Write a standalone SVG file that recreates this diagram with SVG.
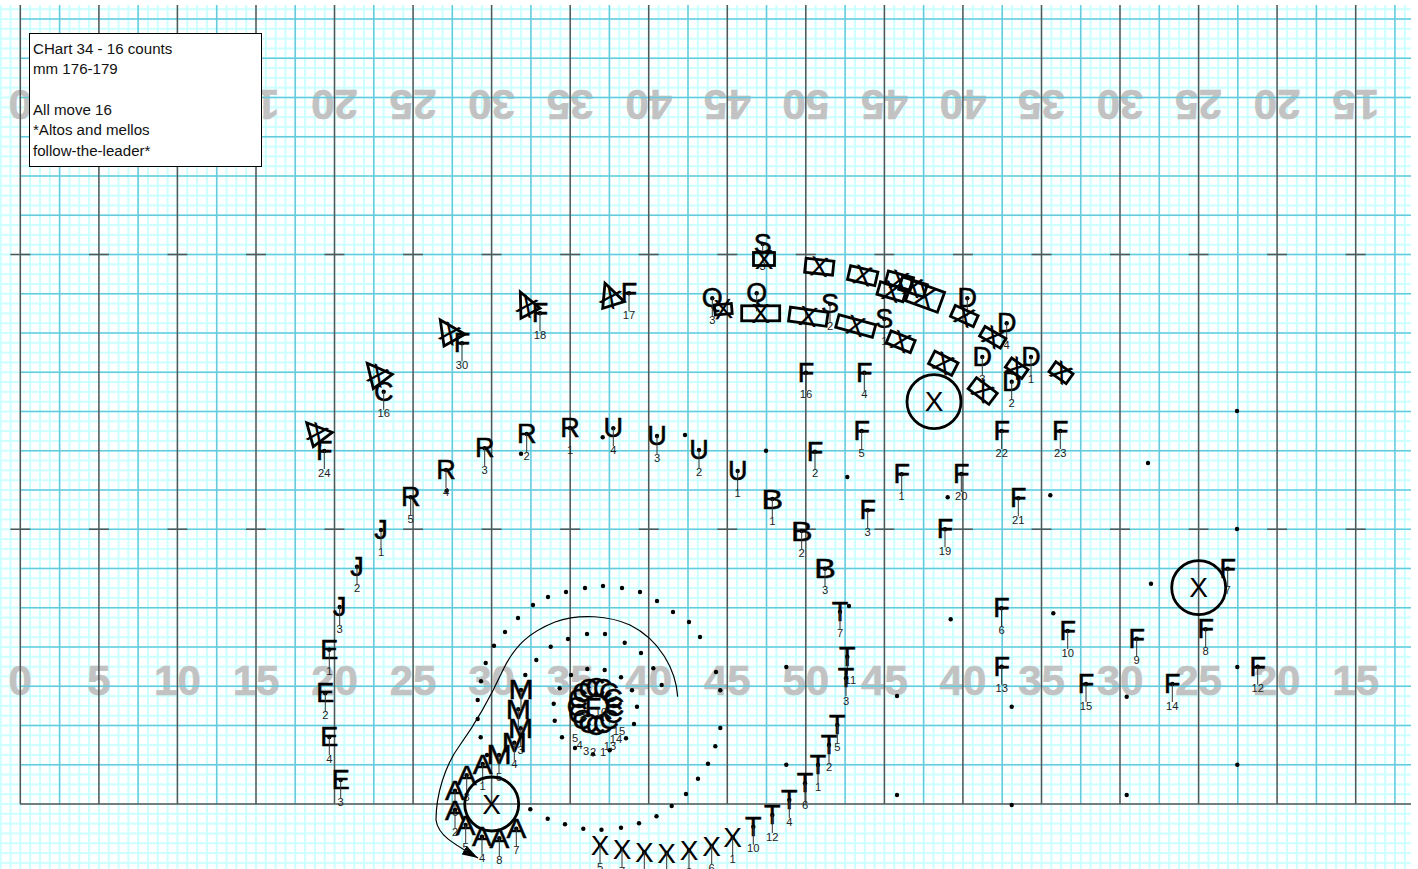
<svg xmlns="http://www.w3.org/2000/svg" xmlns:xlink="http://www.w3.org/1999/xlink" width="1418" height="869" viewBox="0 0 1418 869">
<style>
text{font-family:"Liberation Sans",Arial,sans-serif}
.y{font-size:42px;font-weight:700;fill:#c2c2c2;stroke:#c2c2c2;stroke-width:.6;text-anchor:middle}
.l{font-size:27px;fill:#000;stroke:#000;stroke-width:.5;text-anchor:middle;dominant-baseline:central}
.x{font-size:28px;fill:#000;text-anchor:middle;dominant-baseline:central}
.n{font-size:11.2px;fill:#222;text-anchor:middle}
.b{fill:none;stroke:#000;stroke-width:2.8}
.d{fill:#000}
.st{stroke:#333;stroke-width:1;fill:none}
.t{font-size:15.1px;fill:#111}
</style>
<defs>
<pattern id="minor" patternUnits="userSpaceOnUse" x="-4.21" y="-5.53" width="9.819" height="9.8125">
<rect width="9.819" height="9.8125" fill="#fff"/>
<rect x="3.91" width="2" height="9.8125" fill="#ccffff"/>
<rect y="3.906" width="9.819" height="2" fill="#ccffff"/>
</pattern>
<g id="s"><circle class="d" r="2.2"/><path class="st" d="M0 0V18"/></g>
<marker id="ah" markerUnits="userSpaceOnUse" markerWidth="18" markerHeight="12" refX="16" refY="6" orient="auto"><path d="M0 1L16 6L0 11Z" fill="#000"/></marker>
</defs>
<rect id="field" x="0" y="5" width="1411" height="864" fill="url(#minor)"/>
<g id="yards-bottom">
<text class="y" x="20.3" y="695">0</text><text class="y" x="98.9" y="695">5</text><text class="y" x="177.4" y="695">10</text><text class="y" x="256" y="695">15</text><text class="y" x="334.5" y="695">20</text><text class="y" x="413.1" y="695">25</text><text class="y" x="491.6" y="695">30</text><text class="y" x="570.2" y="695">35</text><text class="y" x="648.7" y="695">40</text><text class="y" x="727.3" y="695">45</text><text class="y" x="805.8" y="695">50</text><text class="y" x="884.4" y="695">45</text><text class="y" x="962.9" y="695">40</text><text class="y" x="1041.5" y="695">35</text><text class="y" x="1120" y="695">30</text><text class="y" x="1198.6" y="695">25</text><text class="y" x="1277.1" y="695">20</text><text class="y" x="1355.7" y="695">15</text>
</g>
<g id="yards-top">
<text class="y" transform="translate(20.3 90) rotate(180)">0</text><text class="y" transform="translate(98.9 90) rotate(180)">5</text><text class="y" transform="translate(177.4 90) rotate(180)">10</text><text class="y" transform="translate(256 90) rotate(180)">15</text><text class="y" transform="translate(334.5 90) rotate(180)">20</text><text class="y" transform="translate(413.1 90) rotate(180)">25</text><text class="y" transform="translate(491.6 90) rotate(180)">30</text><text class="y" transform="translate(570.2 90) rotate(180)">35</text><text class="y" transform="translate(648.7 90) rotate(180)">40</text><text class="y" transform="translate(727.3 90) rotate(180)">45</text><text class="y" transform="translate(805.8 90) rotate(180)">50</text><text class="y" transform="translate(884.4 90) rotate(180)">45</text><text class="y" transform="translate(962.9 90) rotate(180)">40</text><text class="y" transform="translate(1041.5 90) rotate(180)">35</text><text class="y" transform="translate(1120 90) rotate(180)">30</text><text class="y" transform="translate(1198.6 90) rotate(180)">25</text><text class="y" transform="translate(1277.1 90) rotate(180)">20</text><text class="y" transform="translate(1355.7 90) rotate(180)">15</text>
</g>
<path id="grid-cyan" fill="none" stroke="#66c9dc" stroke-width="1.5" d="M59.6 5V804M138.1 5V804M216.7 5V804M295.2 5V804M373.8 5V804M452.3 5V804M530.9 5V804M609.4 5V804M688 5V804M766.5 5V804M845.1 5V804M923.6 5V804M1002.2 5V804M1080.7 5V804M1159.3 5V804M1237.8 5V804M1316.4 5V804M1394.9 5V804M20 764.75H1411M20 725.5H1411M20 686.25H1411M20 647H1411M20 607.75H1411M20 568.5H1411M20 529.25H1411M20 490H1411M20 450.75H1411M20 411.5H1411M20 372.25H1411M20 333H1411M20 293.75H1411M20 254.5H1411M20 215.25H1411M20 176H1411M20 136.75H1411M20 97.5H1411M20 58.25H1411M20 19H1411"/>
<path id="grid-dark" fill="none" stroke="#555" stroke-width="1.5" d="M20.3 5V804M98.9 5V804M177.4 5V804M256 5V804M334.5 5V804M413.1 5V804M491.6 5V804M570.2 5V804M648.7 5V804M727.3 5V804M805.8 5V804M884.4 5V804M962.9 5V804M1041.5 5V804M1120 5V804M1198.6 5V804M1277.1 5V804M1355.7 5V804M20 804H1411M10.3 254.5H30.3M88.9 254.5H108.9M167.4 254.5H187.4M246 254.5H266M324.5 254.5H344.5M403.1 254.5H423.1M481.6 254.5H501.6M560.2 254.5H580.2M638.7 254.5H658.7M717.3 254.5H737.3M795.8 254.5H815.8M874.4 254.5H894.4M952.9 254.5H972.9M1031.5 254.5H1051.5M1110 254.5H1130M1188.6 254.5H1208.6M1267.1 254.5H1287.1M1345.7 254.5H1365.7M10.3 529.25H30.3M88.9 529.25H108.9M167.4 529.25H187.4M246 529.25H266M324.5 529.25H344.5M403.1 529.25H423.1M481.6 529.25H501.6M560.2 529.25H580.2M638.7 529.25H658.7M717.3 529.25H737.3M795.8 529.25H815.8M874.4 529.25H894.4M952.9 529.25H972.9M1031.5 529.25H1051.5M1110 529.25H1130M1188.6 529.25H1208.6M1267.1 529.25H1287.1M1345.7 529.25H1365.7"/>
<g id="note">
<rect x="29.5" y="33.5" width="232" height="133" fill="#fff" stroke="#000" stroke-width="1"/>
<text class="t" x="33" y="53.5">CHart 34 - 16 counts</text>
<text class="t" x="33" y="74">mm 176-179</text>
<text class="t" x="33" y="115">All move 16</text>
<text class="t" x="33" y="135">*Altos and mellos</text>
<text class="t" x="33" y="155.5">follow-the-leader*</text>
</g>
<g id="dots" class="d">
<circle cx="494" cy="645.7" r="2.2"/><circle cx="550.7" cy="646.7" r="2.2"/><circle cx="624.7" cy="642.7" r="2.2"/><circle cx="641" cy="653" r="2.2"/><circle cx="653.3" cy="668.3" r="2.2"/><circle cx="661.7" cy="685" r="2.2"/><circle cx="485.7" cy="663" r="2.2"/><circle cx="536.3" cy="660" r="2.2"/><circle cx="481" cy="681.3" r="2.2"/><circle cx="525.3" cy="675" r="2.2"/><circle cx="587.3" cy="669" r="2.2"/><circle cx="604.7" cy="670" r="2.2"/><circle cx="621" cy="677.3" r="2.2"/><circle cx="571" cy="675" r="2.2"/><circle cx="559.7" cy="688.3" r="2.2"/><circle cx="632" cy="690.3" r="2.2"/><circle cx="477.7" cy="700" r="2.2"/><circle cx="553.7" cy="703.7" r="2.2"/><circle cx="637" cy="706.7" r="2.2"/><circle cx="477.7" cy="719" r="2.2"/><circle cx="554.7" cy="720.7" r="2.2"/><circle cx="634" cy="724" r="2.2"/><circle cx="480.7" cy="737.3" r="2.2"/><circle cx="562" cy="737.3" r="2.2"/><circle cx="626" cy="738.3" r="2.2"/><circle cx="575" cy="748" r="2.2"/><circle cx="593" cy="754.3" r="2.2"/><circle cx="609.7" cy="750.3" r="2.2"/><circle cx="487" cy="755" r="2.2"/><circle cx="530.3" cy="809.3" r="2.2"/><circle cx="547.7" cy="818.7" r="2.2"/><circle cx="565" cy="824.3" r="2.2"/><circle cx="583.3" cy="828.7" r="2.2"/><circle cx="601.5" cy="829.7" r="2.2"/><circle cx="621" cy="827.7" r="2.2"/><circle cx="639" cy="823.3" r="2.2"/><circle cx="656.5" cy="816.3" r="2.2"/><circle cx="671.7" cy="806" r="2.2"/><circle cx="686" cy="794" r="2.2"/><circle cx="698" cy="778.7" r="2.2"/><circle cx="708" cy="763.7" r="2.2"/><circle cx="715.3" cy="746.3" r="2.2"/><circle cx="720.3" cy="728" r="2.2"/><circle cx="720.3" cy="690.3" r="2.2"/><circle cx="716" cy="672" r="2.2"/><circle cx="786.3" cy="667" r="2.2"/><circle cx="786.3" cy="764.7" r="2.2"/><circle cx="897" cy="696" r="2.2"/><circle cx="897" cy="795" r="2.2"/>
<circle cx="505" cy="632" r="2.2"/><circle cx="518" cy="618" r="2.2"/><circle cx="533" cy="605" r="2.2"/><circle cx="548" cy="597" r="2.2"/><circle cx="566" cy="592" r="2.2"/><circle cx="585" cy="588" r="2.2"/><circle cx="603" cy="586" r="2.2"/><circle cx="622" cy="588" r="2.2"/><circle cx="640" cy="592" r="2.2"/><circle cx="657" cy="601" r="2.2"/><circle cx="673" cy="612" r="2.2"/><circle cx="689" cy="622" r="2.2"/><circle cx="700" cy="637" r="2.2"/><circle cx="568" cy="639" r="2.2"/><circle cx="587" cy="634" r="2.2"/><circle cx="605" cy="634" r="2.2"/>
<circle cx="602.7" cy="437.3" r="2.2"/><circle cx="521" cy="453.7" r="2.2"/><circle cx="446.7" cy="490.7" r="2.2"/><circle cx="685" cy="435" r="2.2"/><circle cx="766" cy="450.7" r="2.2"/><circle cx="847.3" cy="477" r="2.2"/><circle cx="947.7" cy="497.3" r="2.2"/><circle cx="1050.3" cy="495.3" r="2.2"/><circle cx="849" cy="606" r="2.2"/><circle cx="950.7" cy="619.3" r="2.2"/><circle cx="1053.3" cy="613.3" r="2.2"/><circle cx="1237" cy="411" r="2.2"/><circle cx="1148" cy="463" r="2.2"/><circle cx="1237" cy="529" r="2.2"/><circle cx="1151" cy="583.7" r="2.2"/><circle cx="1237.3" cy="667" r="2.2"/><circle cx="1011.7" cy="706.7" r="2.2"/><circle cx="1126.7" cy="696.7" r="2.2"/><circle cx="1237.3" cy="764.7" r="2.2"/><circle cx="1126.7" cy="795" r="2.2"/><circle cx="1011.7" cy="805" r="2.2"/>
</g>
<g id="connectors">
<path fill="none" stroke="#000" stroke-width="1.2" marker-end="url(#ah)" d="M677.7 696.7C676 670 660 640 630 625C610 616 580 613 555 622C530 632 515 645 503 670C490 698 478 720 460 745C445 765 436 795 436 820C438 835 452 843 478 858"/>
</g>
<g id="F-section">
<g id="f1" transform="translate(901.7 474.3)"><text class="l">F</text><use href="#s"/><text class="n" y="25.5">1</text></g>
<g id="f2" transform="translate(815 451.7)"><text class="l">F</text><use href="#s"/><text class="n" y="25.5">2</text></g>
<g id="f3" transform="translate(867.7 510.3)"><text class="l">F</text><use href="#s"/><text class="n" y="25.5">3</text></g>
<g id="f4" transform="translate(864.3 372.7)"><text class="l">F</text><use href="#s"/><text class="n" y="25.5">4</text></g>
<g id="f5" transform="translate(861.7 431)"><text class="l">F</text><use href="#s"/><text class="n" y="25.5">5</text></g>
<g id="f6" transform="translate(1001.5 608.3)"><text class="l">F</text><use href="#s"/><text class="n" y="25.5">6</text></g>
<g id="f7" transform="translate(1227.7 568.7)"><text class="l">F</text><use href="#s"/><text class="n" y="25.5">7</text></g>
<g id="f8" transform="translate(1205.7 629.3)"><text class="l">F</text><use href="#s"/><text class="n" y="25.5">8</text></g>
<g id="f9" transform="translate(1136.7 638.7)"><text class="l">F</text><use href="#s"/><text class="n" y="25.5">9</text></g>
<g id="f10" transform="translate(1067.7 631)"><text class="l">F</text><use href="#s"/><text class="n" y="25.5">10</text></g>
<g id="f12" transform="translate(1257.7 666.7)"><text class="l">F</text><use href="#s"/><text class="n" y="25.5">12</text></g>
<g id="f13" transform="translate(1001.7 666.7)"><text class="l">F</text><use href="#s"/><text class="n" y="25.5">13</text></g>
<g id="f14" transform="translate(1172.3 684)"><text class="l">F</text><use href="#s"/><text class="n" y="25.5">14</text></g>
<g id="f15" transform="translate(1086 684)"><text class="l">F</text><use href="#s"/><text class="n" y="25.5">15</text></g>
<g id="f16" transform="translate(806 372.7)"><text class="l">F</text><use href="#s"/><text class="n" y="25.5">16</text></g>
<g id="f17" transform="translate(629 293.3)"><text class="l">F</text><use href="#s"/><text class="n" y="25.5">17</text></g>
<g id="f18" transform="translate(540 313.3)"><text class="l">F</text><use href="#s"/><text class="n" y="25.5">18</text></g>
<g id="f19" transform="translate(945 529.3)"><text class="l">F</text><use href="#s"/><text class="n" y="25.5">19</text></g>
<g id="f20" transform="translate(961.3 474)"><text class="l">F</text><use href="#s"/><text class="n" y="25.5">20</text></g>
<g id="f21" transform="translate(1018.3 498.3)"><text class="l">F</text><use href="#s"/><text class="n" y="25.5">21</text></g>
<g id="f22" transform="translate(1001.7 431)"><text class="l">F</text><use href="#s"/><text class="n" y="25.5">22</text></g>
<g id="f23" transform="translate(1060.3 431)"><text class="l">F</text><use href="#s"/><text class="n" y="25.5">23</text></g>
<g id="f24" transform="translate(324.3 451)"><text class="l">F</text><use href="#s"/><text class="n" y="25.5">24</text></g>
<g id="f30" transform="translate(462 343.3)"><text class="l">F</text><use href="#s"/><text class="n" y="25.5">30</text></g>
</g>
<g id="C-section">
<g id="c16" transform="translate(383.7 391.7)"><text class="l">C</text><use href="#s"/><text class="n" y="25.5">16</text></g>
</g>
<g id="R-section">
<g id="r1" transform="translate(570 428)"><text class="l">R</text><use href="#s"/><text class="n" y="25.5">1</text></g>
<g id="r2" transform="translate(526.7 434)"><text class="l">R</text><use href="#s"/><text class="n" y="25.5">2</text></g>
<g id="r3" transform="translate(484.7 448.3)"><text class="l">R</text><use href="#s"/><text class="n" y="25.5">3</text></g>
<g id="r4" transform="translate(446 470)"><text class="l">R</text><use href="#s"/><text class="n" y="25.5">4</text></g>
<g id="r5" transform="translate(410.7 497.3)"><text class="l">R</text><use href="#s"/><text class="n" y="25.5">5</text></g>
</g>
<g id="U-section">
<g id="u4" transform="translate(613.3 428.3)"><text class="l">U</text><use href="#s"/><text class="n" y="25.5">4</text></g>
<g id="u3" transform="translate(657 436)"><text class="l">U</text><use href="#s"/><text class="n" y="25.5">3</text></g>
<g id="u2" transform="translate(699 450)"><text class="l">U</text><use href="#s"/><text class="n" y="25.5">2</text></g>
<g id="u1" transform="translate(737.7 471)"><text class="l">U</text><use href="#s"/><text class="n" y="25.5">1</text></g>
</g>
<g id="B-section">
<g id="b1n" transform="translate(772.3 499)"><text class="l" transform="scale(1.2 1)">B</text><use href="#s"/><text class="n" y="25.5">1</text></g>
<g id="b2n" transform="translate(801.7 531)"><text class="l" transform="scale(1.2 1)">B</text><use href="#s"/><text class="n" y="25.5">2</text></g>
<g id="b3n" transform="translate(825 568.7)"><text class="l" transform="scale(1.2 1)">B</text><use href="#s"/><text class="n" y="25.5">3</text></g>
</g>
<g id="J-section">
<g id="j1" transform="translate(381 530)"><text class="l">J</text><use href="#s"/><text class="n" y="25.5">1</text></g>
<g id="j2" transform="translate(357 566.7)"><text class="l">J</text><use href="#s"/><text class="n" y="25.5">2</text></g>
<g id="j3" transform="translate(339.7 607)"><text class="l">J</text><use href="#s"/><text class="n" y="25.5">3</text></g>
</g>
<g id="E-section">
<g id="e1" transform="translate(329.3 649.7)"><text class="l">E</text><use href="#s"/><text class="n" y="25.5">1</text></g>
<g id="e2" transform="translate(325.3 693.3)"><text class="l">E</text><use href="#s"/><text class="n" y="25.5">2</text></g>
<g id="e4" transform="translate(329.3 737)"><text class="l">E</text><use href="#s"/><text class="n" y="25.5">4</text></g>
<g id="e3" transform="translate(340.7 780)"><text class="l">E</text><use href="#s"/><text class="n" y="25.5">3</text></g>
</g>
<g id="T-section">
<g id="t7" transform="translate(840 611.7)"><text class="l">T</text><use href="#s"/><text class="n" y="25.5">7</text></g>
<g id="t11" transform="translate(847.3 656.7)"><text class="l">T</text><use href="#s"/><text class="n" x="3" y="27">11</text></g>
<g id="t3" transform="translate(846 678.3)"><text class="l">T</text><use href="#s"/><text class="n" y="27">3</text></g>
<g id="t5" transform="translate(837.3 725)"><text class="l">T</text><use href="#s"/><text class="n" y="25.5">5</text></g>
<g id="t2" transform="translate(829 745)"><text class="l">T</text><use href="#s"/><text class="n" y="25.5">2</text></g>
<g id="t1" transform="translate(818 765)"><text class="l">T</text><use href="#s"/><text class="n" y="25.5">1</text></g>
<g id="t6" transform="translate(805 783.3)"><text class="l">T</text><use href="#s"/><text class="n" y="25.5">6</text></g>
<g id="t4" transform="translate(789.3 800)"><text class="l">T</text><use href="#s"/><text class="n" y="25.5">4</text></g>
<g id="t12" transform="translate(772.3 815)"><text class="l">T</text><use href="#s"/><text class="n" y="25.5">12</text></g>
<g id="t10" transform="translate(753.3 826.7)"><text class="l">T</text><use href="#s"/><text class="n" y="25.5">10</text></g>
</g>
<g id="X-section">
<g id="x1" transform="translate(732.7 837.7)"><text class="x">X</text><use href="#s"/><text class="n" y="25.5">1</text></g>
<g id="x6" transform="translate(711.7 846)"><text class="x">X</text><use href="#s"/><text class="n" y="25.5">6</text></g>
<g id="x8" transform="translate(689 850.7)"><text class="x">X</text><use href="#s"/><text class="n" y="25.5">8</text></g>
<g id="x3" transform="translate(666.7 853)"><text class="x">X</text><use href="#s"/></g>
<g id="x2" transform="translate(644.3 852.3)"><text class="x">X</text><use href="#s"/></g>
<g id="x7" transform="translate(622 849)"><text class="x">X</text><use href="#s"/><text class="n" y="25.5">7</text></g>
<g id="x5" transform="translate(600 845)"><text class="x">X</text><use href="#s"/><text class="n" y="25.5">5</text></g>
</g>
<g id="M-section">
<g id="m1" transform="translate(521 690)"><text class="l" transform="scale(1.12 1)">M</text><use href="#s"/></g>
<g id="m2" transform="translate(518.3 709.3)"><text class="l" transform="scale(1.12 1)">M</text><use href="#s"/></g>
<g id="m3" transform="translate(520.7 728.3)"><text class="l" transform="scale(1.12 1)">M</text><use href="#s"/><text class="n" y="25.5">3</text></g>
<g id="m4" transform="translate(514.3 742.7)"><text class="l" transform="scale(1.12 1)">M</text><use href="#s"/><text class="n" y="25.5">4</text></g>
<g id="m5" transform="translate(499 755)"><text class="l" transform="scale(1.12 1)">M</text><use href="#s"/><text class="n" y="25.5">5</text></g>
</g>
<g id="A-section">
<g id="a1" transform="translate(482.7 764)"><text class="l" transform="scale(1.1 1)">A</text><use href="#s"/><text class="n" y="25.5">1</text></g>
<g id="a3" transform="translate(466.7 775.3)"><text class="l" transform="scale(1.1 1)">A</text><use href="#s"/><text class="n" y="25.5">3</text></g>
<g id="a6" transform="translate(455 790.7)"><text class="l" transform="scale(1.1 1)">A</text><use href="#s"/><text class="n" y="25.5">6</text></g>
<g id="a2" transform="translate(455 810)"><text class="l" transform="scale(1.1 1)">A</text><use href="#s"/><text class="n" y="25.5">2</text></g>
<g id="a5" transform="translate(465.7 825)"><text class="l" transform="scale(1.1 1)">A</text><use href="#s"/><text class="n" y="25.5">5</text></g>
<g id="a4" transform="translate(482 836.7)"><text class="l" transform="scale(1.1 1)">A</text><use href="#s"/><text class="n" y="25.5">4</text></g>
<g id="a8" transform="translate(499.3 838.3)"><text class="l" transform="scale(1.1 1)">A</text><use href="#s"/><text class="n" y="25.5">8</text></g>
<g id="a7" transform="translate(516.3 828.7)"><text class="l" transform="scale(1.1 1)">A</text><use href="#s"/><text class="n" y="25.5">7</text></g>
</g>
<g id="ring">
<text class="l" x="614.5" y="706.5">C</text><text class="l" x="613.1" y="713.8">C</text><text class="l" x="608.9" y="719.9">C</text><text class="l" x="602.8" y="724.1">C</text><text class="l" x="595.5" y="725.5">C</text><text class="l" x="588.2" y="724.1">C</text><text class="l" x="582.1" y="719.9">C</text><text class="l" x="577.9" y="713.8">C</text><text class="l" x="576.5" y="706.5">C</text><text class="l" x="577.9" y="699.2">C</text><text class="l" x="582.1" y="693.1">C</text><text class="l" x="588.2" y="688.9">C</text><text class="l" x="595.5" y="687.5">C</text><text class="l" x="602.8" y="688.9">C</text><text class="l" x="608.9" y="693.1">C</text><text class="l" x="613.1" y="699.2">C</text>
<text class="l" x="593" y="708">F</text>
<text class="n" x="575" y="742">5</text><text class="n" x="579.5" y="749">4</text><text class="n" x="586" y="755">3</text><text class="n" x="593" y="756">2</text><text class="n" x="603" y="756">1</text><text class="n" x="610" y="750">13</text><text class="n" x="616" y="743">14</text><text class="n" x="619" y="735">15</text><text class="n" x="601" y="716">10</text><text class="n" x="583" y="719">3</text>
</g>
<g id="S-section">
<g id="s3" transform="translate(762.7 244)"><text class="l">S</text><use href="#s"/><text class="n" y="26">3</text></g>
<g id="s2" transform="translate(830 304)"><text class="l">S</text><use href="#s"/><text class="n" y="25.5">2</text></g>
<g id="s1" transform="translate(884.3 319)"><text class="l">S</text><use href="#s"/><text class="n" y="25.5">1</text></g>
</g>
<g id="Q-section">
<g id="q3" transform="translate(712.3 298.3)"><text class="l">Q</text><use href="#s"/><text class="n" y="25.5">3</text></g>
<g id="q1" transform="translate(756.7 293.3)"><text class="l">Q</text><use href="#s"/></g>
</g>
<g id="D-section">
<g id="d5" transform="translate(967.3 298.3)"><text class="l">D</text><use href="#s"/></g>
<g id="d4" transform="translate(1006.7 323.3)"><text class="l">D</text><use href="#s"/><text class="n" y="25.5">4</text></g>
<g id="d3" transform="translate(982.3 357)"><text class="l">D</text><use href="#s"/><text class="n" y="25.5">3</text></g>
<g id="d1" transform="translate(1031 357)"><text class="l">D</text><use href="#s"/><text class="n" y="25.5">1</text></g>
<g id="d2" transform="translate(1011.7 381.7)"><text class="l">D</text><use href="#s"/><text class="n" y="25.5">2</text></g>
</g>
<g id="boxes">
<g id="bx1" transform="translate(764 259)"><rect class="b" x="-10.5" y="-6.5" width="21" height="13"/><text class="x">X</text></g>
<g id="bx2" transform="translate(819.3 266.7) rotate(6)"><rect class="b" x="-14" y="-7" width="28" height="14"/><text class="x">X</text></g>
<g id="bx3" transform="translate(862.7 275.7) rotate(13)"><rect class="b" x="-14" y="-7" width="28" height="14"/><text class="x">X</text></g>
<g id="bx4" transform="translate(899.3 280.7) rotate(15)"><rect class="b" x="-13" y="-6.5" width="26" height="13"/><text class="x">X</text></g>
<g id="bx5" transform="translate(891.7 291.7) rotate(16)"><rect class="b" x="-13.5" y="-6.5" width="27" height="13"/><text class="x">X</text></g>
<g id="bx6" transform="translate(913 287) rotate(17)"><rect class="b" x="-13" y="-6.5" width="26" height="13"/><text class="x">X</text></g>
<g id="bx7" transform="translate(925 296.5) rotate(20)"><rect class="b" x="-17" y="-10.5" width="34" height="21"/><text class="x">X</text></g>
<g id="bx8" transform="translate(964.3 316) rotate(24)"><rect class="b" x="-12.5" y="-6" width="25" height="12"/><text class="x">X</text></g>
<g id="bx9" transform="translate(992.7 337.3) rotate(30)"><rect class="b" x="-12" y="-5.5" width="24" height="11"/><text class="x">X</text></g>
<g id="bx10" transform="translate(1016.7 368.3) rotate(35)"><rect class="b" x="-10" y="-5.5" width="20" height="11"/><text class="x">X</text></g>
<g id="bx11" transform="translate(1061 372.7) rotate(35)"><rect class="b" x="-10.5" y="-6" width="21" height="12"/><text class="x">X</text></g>
<g id="bx12" transform="translate(982.7 391) rotate(37)"><rect class="b" x="-13" y="-7" width="26" height="14"/><text class="x">X</text></g>
<g id="bx13" transform="translate(943.3 363.3) rotate(27)"><rect class="b" x="-13" y="-7" width="26" height="14"/><text class="x">X</text></g>
<g id="bx14" transform="translate(900.7 341.7) rotate(22)"><rect class="b" x="-13" y="-6.5" width="26" height="13"/><text class="x">X</text></g>
<g id="bx15" transform="translate(855.7 326) rotate(15)"><rect class="b" x="-19" y="-6.5" width="38" height="13"/><text class="x">X</text></g>
<g id="bx16" transform="translate(808.3 316.7) rotate(8)"><rect class="b" x="-19" y="-7" width="38" height="14"/><text class="x">X</text></g>
<g id="bx17" transform="translate(760.7 313.3)"><rect class="b" x="-19" y="-7.5" width="38" height="15"/><text class="x">X</text></g>
<g id="bx18" transform="translate(723.3 309.3) rotate(-5)"><rect class="b" x="-8.5" y="-5" width="17" height="10"/><text class="x">X</text></g>
</g>
<g id="triangles">
<g id="tr1"><polygon class="b" points="367.3,363.3 392.3,374.3 373.3,388.7"/><text class="x" transform="translate(377.7 375.5) rotate(25)">X</text></g>
<g id="tr2"><polygon class="b" points="440.3,320 465,334.3 444,346"/><text class="x" transform="translate(449.7 333.5) rotate(25)">X</text></g>
<g id="tr3"><polygon class="b" points="520.3,292 540,308.3 521,318.3"/><text class="x" transform="translate(527 306) rotate(25)">X</text></g>
<g id="tr4"><polygon class="b" points="605,283.3 624.3,301.7 602.7,308.3"/><text class="x" transform="translate(610.5 297) rotate(25)">X</text></g>
<g id="tr5"><polygon class="b" points="306.7,422.7 332.3,432.3 313.3,446.7"/><text class="x" transform="translate(317.5 434) rotate(25)">X</text></g>
</g>
<g id="circles">
<g id="cx1"><circle class="b" cx="491.7" cy="804" r="27"/><text class="x" x="491.7" y="804">X</text></g>
<g id="cx2"><circle class="b" cx="934" cy="401.7" r="27"/><text class="x" x="934" y="401.7">X</text></g>
<g id="cx3"><circle class="b" cx="1198.7" cy="587.7" r="27"/><text class="x" x="1198.7" y="587.7">X</text></g>
</g>
</svg>
